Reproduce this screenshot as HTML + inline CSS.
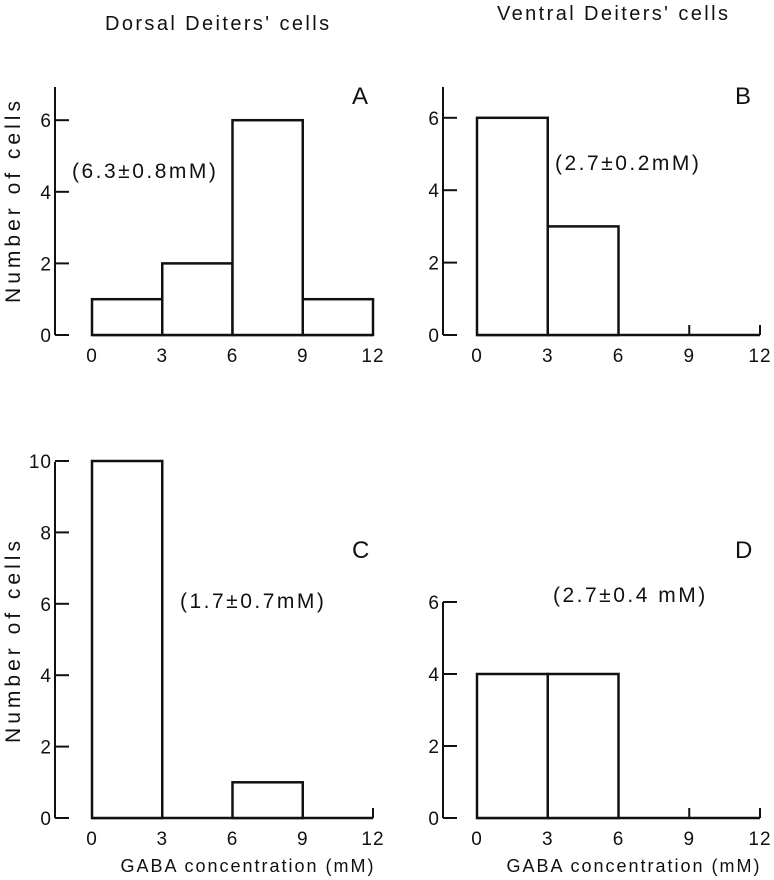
<!DOCTYPE html>
<html><head><meta charset="utf-8"><style>
body{margin:0;background:#fff;}
svg{display:block;font-family:"Liberation Sans",sans-serif;}
text{fill:#111;}
</style></head><body>
<svg id="fig" width="774" height="880" viewBox="0 0 774 880">
<text x="105" y="30" font-size="20" letter-spacing="2.4">Dorsal Deiters' cells</text>
<text x="497" y="20" font-size="20" letter-spacing="2.4">Ventral Deiters' cells</text>
<text x="20" y="200" font-size="21" letter-spacing="4" transform="rotate(-90 20 200)" text-anchor="middle">Number of cells</text>
<text x="20" y="640" font-size="21" letter-spacing="4" transform="rotate(-90 20 640)" text-anchor="middle">Number of cells</text>
<text x="248" y="872" font-size="18" letter-spacing="2" text-anchor="middle">GABA concentration (mM)</text>
<text x="634" y="872" font-size="18" letter-spacing="2" text-anchor="middle">GABA concentration (mM)</text>
</svg>
<script>
const xTicks = [0, 3, 6, 9, 12];
const binEdges = [0, 3, 6, 9];
const valuesA = [1, 2, 6, 1];
const valuesB = [6, 3, 0, 0];
const valuesC = [10, 0, 1, 0];
const valuesD = [4, 4, 0, 0];
const yTicksA = [0, 2, 4, 6];
const yTicksB = [0, 2, 4, 6];
const yTicksC = [0, 2, 4, 6, 8, 10];
const yTicksD = [0, 2, 4, 6];
const labels = ["A", "B", "C", "D"];
const notes = ["(6.3\u00B10.8mM)", "(2.7\u00B10.2mM)", "(1.7\u00B10.7mM)", "(2.7\u00B10.4 mM)"];

const svg = document.getElementById('fig');
const NS = 'http://www.w3.org/2000/svg';
function el(tag, attrs, parent){const e=document.createElementNS(NS,tag);for(const k in attrs)e.setAttribute(k,attrs[k]);(parent||svg).appendChild(e);return e;}

const panels = [
 {vals:valuesA, yt:yTicksA, ax:55, x0:92, x12:373, y0:335, unit:35.8, top:87, lab:[352,104], note:[72,178], id:'a'},
 {vals:valuesB, yt:yTicksB, ax:443, x0:477, x12:760, y0:335, unit:36.2, top:87, lab:[735,104], note:[555,170], id:'b'},
 {vals:valuesC, yt:yTicksC, ax:55, x0:92, x12:373, y0:818, unit:35.7, top:462, lab:[352,558], note:[180,608], id:'c'},
 {vals:valuesD, yt:yTicksD, ax:443, x0:477, x12:760, y0:818, unit:36, top:602, lab:[735,558], note:[553,602], id:'d'}
];
panels.forEach((p,i)=>{
 const g = el('g',{});
 
 
 const xs = v => p.x0 + (v/12)*(p.x12-p.x0);
 const ys = v => p.y0 - v*p.unit;
 const ya = el('line',{x1:p.ax,y1:p.top,x2:p.ax,y2:p.y0,stroke:'#111','stroke-width':2},g);
 
 
 p.yt.forEach(t=>{
  el('line',{x1:p.ax,y1:ys(t),x2:p.ax+14,y2:ys(t),stroke:'#111','stroke-width':2},g);
  const tx = el('text',{x:p.ax-3,y:ys(t)+7,'font-size':19,'letter-spacing':1,'text-anchor':'end'},g);
  tx.textContent = t;
  
  
 });
 const base = el('line',{x1:xs(0),y1:p.y0,x2:xs(12),y2:p.y0,stroke:'#111','stroke-width':2.5},g);
 
 
 xTicks.forEach(t=>{
  el('line',{x1:xs(t),y1:p.y0,x2:xs(t),y2:p.y0-10,stroke:'#111','stroke-width':2},g);
  const tx = el('text',{x:xs(t),y:p.y0+27,'font-size':19,'letter-spacing':1,'text-anchor':'middle'},g);
  tx.textContent = t;
  
  
 });
 binEdges.forEach((b,j)=>{
  const v = p.vals[j];
  if(v<=0) return;
  const r = el('rect',{x:xs(b),y:ys(v),width:xs(b+3)-xs(b),height:v*p.unit,fill:'#fff',stroke:'#111','stroke-width':2.5},g);
  
  
 });
 const l = el('text',{x:p.lab[0],y:p.lab[1],'font-size':24},g);
 l.textContent = labels[i];
 
 
 const n = el('text',{x:p.note[0],y:p.note[1],'font-size':21,'letter-spacing':2.5},g);
 n.textContent = notes[i];
 
 
});
</script>
</body></html>
